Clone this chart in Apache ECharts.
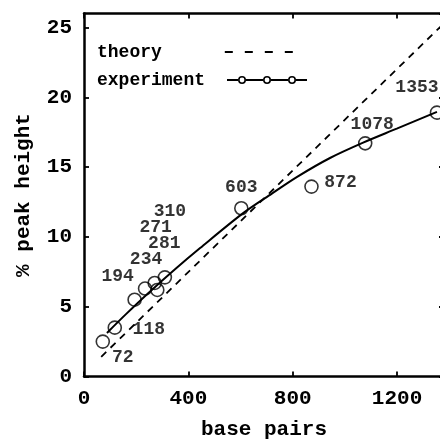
<!DOCTYPE html>
<html><head><meta charset="utf-8">
<script src="https://cdn.jsdelivr.net/npm/echarts@6/dist/echarts.min.js"></script>
<style>html,body{margin:0;padding:0;background:#fff}#c{width:440px;height:442px}</style>
</head><body><div id="c"></div>
<script>
// ---- data ----
const basePairs  = [72, 118, 194, 234, 271, 281, 310, 603, 872, 1078, 1353];
const peakHeight = [2.5, 3.5, 5.5, 6.3, 6.7, 6.2, 7.1, 12.05, 13.6, 16.7, 18.9];
const fitX = [88, 160, 245, 350, 445, 610, 720, 817, 943, 1070, 1199, 1353];
const fitY = [3.12, 4.45, 5.95, 7.7, 9.2, 11.7, 13.1, 14.3, 15.65, 16.75, 17.75, 18.95];
const theoryX = [66, 1380];
const theoryY = [1.41, 25.3];
const xTicks = [0, 400, 800, 1200];
const yTicks = [0, 5, 10, 15, 20, 25];
const xMax = 1380, yMax = 26;
// label placement (pixels, relative to marker)
const labelOffsets = [[20,16],[34,2],[-17,-23],[1,-29],[1,-55],[7,-46],[5,-66],[0,-21],[29,-4],[7,-19],[-20,-25]];

const FONT = 'Liberation Mono';
const txt = (size) => ({fontFamily: FONT, fontWeight: 'bold', fontSize: size, color: '#000'});

const theoryIcon = 'path://M0,0h8v2h-8z M20,0h8v2h-8z M40,0h8v2h-8z M60,0h8v2h-8z';
function ring(cx){
  return 'M'+(cx-4)+',4a4,4 0 1,0 8,0a4,4 0 1,0 -8,0z M'+(cx-2.4)+',4a2.4,2.4 0 1,1 4.8,0a2.4,2.4 0 1,1 -4.8,0z';
}
const expIcon = 'path://M0,3h11v2h-11z ' + ring(15) + ' M19,3h17v2h-17z ' + ring(40) + ' M44,3h17v2h-17z ' + ring(65) + ' M69,3h11v2h-11z';

const axisLine = {show: true, onZero: false, lineStyle: {color: '#000', width: 2.5}};
const axisTick = {show: true, inside: true, length: 5, lineStyle: {color: '#000', width: 1.8}};
const plain = (v) => String(v);

const chart = echarts.init(document.getElementById('c'));
chart.setOption({
  animation: false,
  backgroundColor: '#fff',
  grid: {left: 84, top: 13.5, width: 360, height: 363, containLabel: false, outerBoundsMode: 'none'},
  legend: [
    {left: 97, top: 43, padding: 0, align: 'right', selectedMode: false,
     itemWidth: 68, itemHeight: 2,
     data: [{name: 'theory', icon: theoryIcon, itemStyle: {color: '#000', borderWidth: 0}}],
     textStyle: Object.assign(txt(18), {padding: [0, 58, 0, 0]})},
    {left: 97, top: 71, padding: 0, align: 'right', selectedMode: false,
     itemWidth: 80, itemHeight: 8,
     data: [{name: 'experiment', icon: expIcon, itemStyle: {color: '#000', borderWidth: 0}}],
     textStyle: Object.assign(txt(18), {padding: [0, 17, 0, 0]})}
  ],
  xAxis: [
    {type: 'value', position: 'bottom', min: xTicks[0], max: xMax, interval: xTicks[1] - xTicks[0],
     axisLine, axisTick, splitLine: {show: false},
     axisLabel: Object.assign(txt(21), {margin: 12, showMaxLabel: false, formatter: plain}),
     name: 'base pairs', nameLocation: 'middle', nameGap: 43, nameTextStyle: txt(21)},
    {type: 'value', position: 'top', min: xTicks[0], max: xMax, interval: xTicks[1] - xTicks[0],
     axisLine, axisTick, splitLine: {show: false}, axisLabel: {show: false}}
  ],
  yAxis: [
    {type: 'value', position: 'left', min: yTicks[0], max: yMax, interval: yTicks[1] - yTicks[0],
     axisLine, axisTick, splitLine: {show: false},
     axisLabel: Object.assign(txt(21), {margin: 12, showMaxLabel: false, formatter: plain}),
     name: '% peak height', nameLocation: 'middle', nameGap: 50, nameTextStyle: txt(21)},
    {type: 'value', position: 'right', min: yTicks[0], max: yMax, interval: yTicks[1] - yTicks[0],
     axisLine, axisTick, splitLine: {show: false}, axisLabel: {show: false}}
  ],
  series: [
    {name: 'theory', type: 'line', symbol: 'none', silent: true,
     data: theoryX.map((x, i) => [x, theoryY[i]]),
     lineStyle: {color: '#000', width: 1.8, type: [7, 6]}},
    {name: 'experiment', type: 'line', symbol: 'none', silent: true, smooth: 0.3,
     data: fitX.map((x, i) => [x, fitY[i]]),
     lineStyle: {color: '#000', width: 2}},
    {name: 'experiment', type: 'scatter', symbol: 'circle', symbolSize: 13, z: 5,
     itemStyle: {color: 'rgba(0,0,0,0)', borderColor: '#000', borderWidth: 1.6},
     label: Object.assign(txt(18), {show: true, position: 'inside', formatter: (p) => String(basePairs[p.dataIndex])}),
     data: basePairs.map((b, i) => ({value: [b, peakHeight[i]], label: {offset: labelOffsets[i]}}))}
  ]
});
</script>
</body></html>
